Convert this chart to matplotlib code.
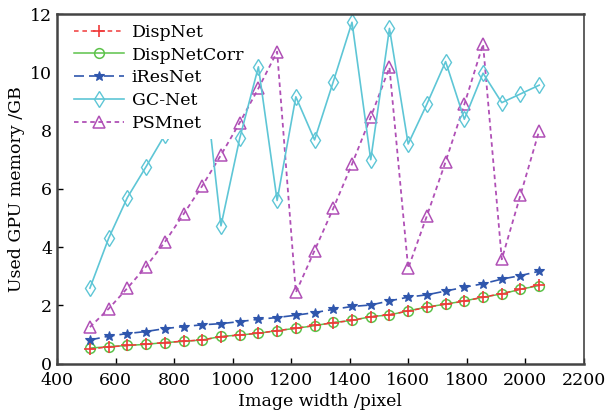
import matplotlib
matplotlib.use("Agg")
import matplotlib.pyplot as plt
from matplotlib.patches import Rectangle

# image widths (pixel)
widths = [512, 576, 640, 704, 768, 832, 896, 960, 1024, 1088, 1152, 1216, 1280,
          1344, 1408, 1472, 1536, 1600, 1664, 1728, 1792, 1856, 1920, 1984, 2048]

dispnet = [0.50, 0.57, 0.62, 0.67, 0.72, 0.77, 0.81, 0.92, 0.98, 1.04, 1.13, 1.21, 1.31,
           1.40, 1.48, 1.61, 1.68, 1.80, 1.93, 2.04, 2.14, 2.28, 2.40, 2.55, 2.70]
dispnetcorr = [0.53, 0.58, 0.62, 0.66, 0.72, 0.76, 0.81, 0.93, 0.98, 1.04, 1.13, 1.21, 1.30,
               1.41, 1.48, 1.61, 1.67, 1.81, 1.94, 2.04, 2.15, 2.28, 2.39, 2.55, 2.68]
iresnet = [0.81, 0.94, 1.03, 1.10, 1.20, 1.27, 1.33, 1.37, 1.44, 1.52, 1.58, 1.66, 1.75,
           1.86, 1.96, 2.01, 2.15, 2.28, 2.36, 2.49, 2.62, 2.74, 2.90, 3.02, 3.17]
gcnet = [2.59, 4.30, 5.70, 6.76, 7.85, 9.10, 10.45, 4.73, 7.73, 10.19, 5.60, 9.16, 7.68,
         9.68, 11.72, 7.00, 11.51, 7.54, 8.91, 10.37, 8.39, 9.97, 8.96, 9.26, 9.56]
psmnet = [1.25, 1.88, 2.59, 3.33, 4.17, 5.13, 6.10, 7.16, 8.27, 9.45, 10.71, 2.44, 3.88,
          5.33, 6.85, 8.46, 10.17, 3.27, 5.07, 6.93, 8.90, 10.97, 3.58, 5.79, 8.00]

plt.rcParams["font.family"] = ["DejaVu Serif"]
plt.rcParams["font.size"] = 12.5

fig = plt.figure(figsize=(6.08, 4.15), dpi=100)
ax = fig.add_axes([0.094, 0.124, 0.866, 0.842])

ax.plot(widths, dispnet, color="#f03a3a", ls=(0, (3, 2.5)), lw=1.1,
        marker="+", ms=9, mew=1.2, label="DispNet", zorder=4)
ax.plot(widths, dispnetcorr, color="#5cc24a", ls="-", lw=1.1,
        marker="o", ms=7, mfc="none", mew=1.1, label="DispNetCorr", zorder=3)
ax.plot(widths, iresnet, color="#2f56ad", ls=(0, (6, 3)), lw=1.2,
        marker="*", ms=7, mew=0.8, label="iResNet", zorder=3)
ax.plot(widths, gcnet, color="#5ec6d6", ls="-", lw=1.2,
        marker="d", ms=8, mfc="none", mew=1.0, label="GC-Net", zorder=3)
ax.plot(widths, psmnet, color="#b050b6", ls=(0, (2.5, 2)), lw=1.3,
        marker="^", ms=9, mfc="none", mew=1.1, label="PSMnet", zorder=2)

ax.set_xlim(400, 2200)
ax.set_ylim(0, 12)
ax.set_xticks(range(400, 2201, 200))
ax.set_yticks(range(0, 13, 2))
ax.set_xlabel("Image width /pixel", labelpad=3)
ax.set_ylabel("Used GPU memory /GB", labelpad=4)
ax.tick_params(direction="in", length=4, width=1, top=False, right=False)
ax.tick_params(axis="x", pad=6)

for side in ["left", "bottom", "top"]:
    ax.spines[side].set_linewidth(1.8)
    ax.spines[side].set_color("#444444")
ax.spines["right"].set_linewidth(1.2)
ax.spines["right"].set_color("#444444")
for spine in ax.spines.values():
    spine.set_zorder(6)

# white backdrop behind the legend (hides the curves there, as in the original)
ax.add_patch(Rectangle((0, 0.643), 0.318, 0.357, transform=ax.transAxes,
                       facecolor="white", edgecolor="none", zorder=4.5))

leg = ax.legend(loc="upper left", bbox_to_anchor=(0.013, 1.0), frameon=False,
                handlelength=2.9, handletextpad=0.45, labelspacing=0.34,
                borderpad=0.35, borderaxespad=0.2)
leg.set_zorder(5)

fig.savefig("out.png", dpi=100)
